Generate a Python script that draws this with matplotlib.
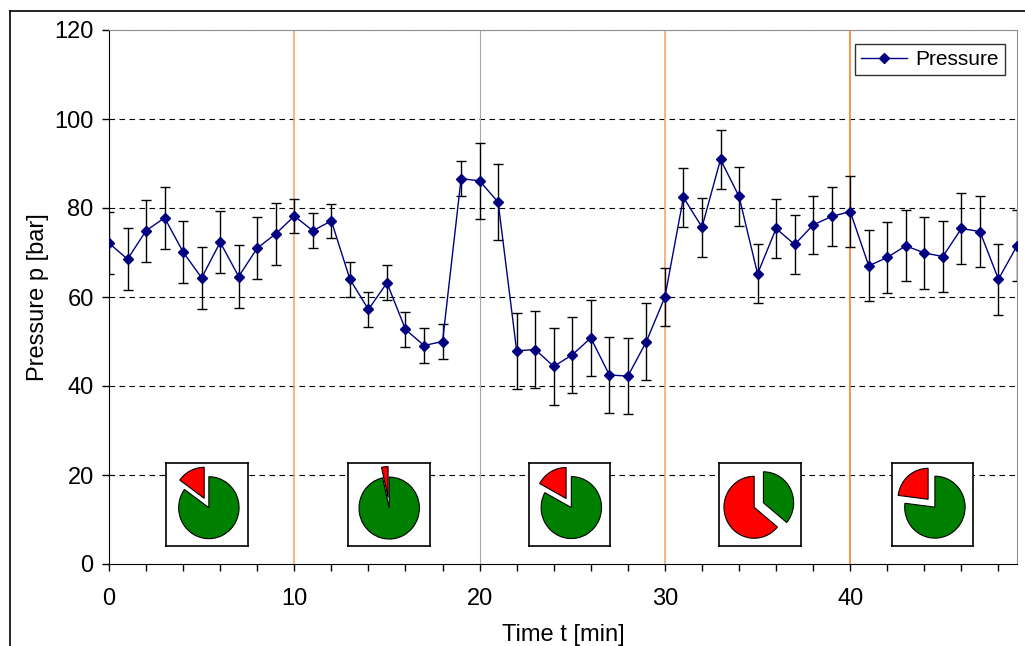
import numpy as np
import matplotlib
matplotlib.use('Agg')
import matplotlib.pyplot as plt
from matplotlib.lines import Line2D

plt.rcParams['font.family'] = ['Liberation Sans', 'DejaVu Sans']

# --- Data ---
time_min = list(range(50))
pressure = [72.1, 68.5, 74.9, 77.8, 70.1, 64.3, 72.3, 64.6, 71.0, 74.2,
            78.2, 74.9, 77.1, 64.0, 57.2, 63.2, 52.7, 49.1, 50.0, 86.6,
            86.1, 81.3, 47.9, 48.2, 44.4, 47.0, 50.8, 42.5, 42.2, 50.0,
            60.0, 82.4, 75.7, 90.9, 82.6, 65.2, 75.4, 71.8, 76.2, 78.1,
            79.2, 67.0, 68.9, 71.5, 69.9, 69.1, 75.4, 74.7, 64.0, 71.5]
pressure_err = [7.0] * 10 + [3.9] * 10 + [8.6] * 10 + [6.6] * 10 + [8.0] * 10

# phase boundaries (vertical lines)
phase_lines = [10, 20, 30, 40]
phase_colors = ['#F8A46C', '#A8A8A8', '#F8A46C', '#FF7F2A']

# pie shares per phase: [green, red]
pie_green = [85, 96.5, 83, 36, 77]
pie_red = [15, 3.5, 17, 64, 23]
pie_box_left = [3.1, 12.9, 22.65, 32.94, 42.24]

# --- Plot ---
fig = plt.figure(figsize=(10.25, 6.46), dpi=100)
ax = fig.add_axes([109 / 1025, 1 - 564 / 646, 908 / 1025, 534 / 646])

for y in [20, 40, 60, 80, 100]:
    ax.axhline(y, color='black', lw=0.8, dashes=(5, 4), zorder=1)
ax.axhline(120, color='#909090', lw=0.8, dashes=(5, 4), zorder=1)

for xv, c in zip(phase_lines, phase_colors):
    ax.axvline(xv, color=c, lw=1.2 if c != '#A8A8A8' else 0.8, zorder=1)

ax.errorbar(time_min, pressure, yerr=pressure_err, fmt='none', ecolor='black',
            elinewidth=1.0, capsize=3.6, capthick=1.0, zorder=2)
ax.plot(time_min, pressure, color='#000080', lw=1.0, marker='D', markersize=5,
        label='Pressure', zorder=3)

ax.set_xlim(0, 49)
ax.set_ylim(0, 120)
ax.set_xticks(np.arange(0, 50, 2), minor=True)
ax.set_xticks([0, 10, 20, 30, 40])
ax.set_yticks([0, 20, 40, 60, 80, 100, 120])
ax.tick_params(axis='both', which='both', direction='out', length=5, width=1,
               labelsize=17)
ax.tick_params(axis='x', which='both', pad=12)
ax.tick_params(axis='y', pad=6)
ax.spines['top'].set_color('#909090')
ax.spines['right'].set_color('#909090')

ax.set_xlabel('Time t [min]', fontsize=17, labelpad=10)
ax.set_ylabel('Pressure p [bar]', fontsize=17, labelpad=4)

leg = ax.legend(loc='upper right', bbox_to_anchor=(0.9868, 0.9738), fontsize=15,
                frameon=True, fancybox=False, edgecolor='black', handlelength=2.2,
                borderpad=0.3, handletextpad=0.4, borderaxespad=0)
leg.get_frame().set_linewidth(1.0)

# pie insets
for left, g, r in zip(pie_box_left, pie_green, pie_red):
    pax = ax.inset_axes([left, 4.0, 4.4, 18.8], transform=ax.transData)
    pax.pie([g, r], colors=['#008000', '#FF0000'], startangle=90, counterclock=False,
            explode=[0.12, 0.22], wedgeprops=dict(edgecolor='black', linewidth=0.8),
            frame=True)
    pax.set_aspect('auto')
    pax.set_xlim(-1.35, 1.35)
    pax.set_ylim(-1.35, 1.35)
    pax.set_xticks([])
    pax.set_yticks([])
    pax.set_facecolor('white')
    for s in pax.spines.values():
        s.set_visible(True)
        s.set_linewidth(1.2)
        s.set_color('black')
    pax.set_zorder(4)

# outer frame of the chart area
fig.add_artist(Line2D([10 / 1025, 10 / 1025], [0, 1 - 11 / 646], color='black',
                      lw=1.2, transform=fig.transFigure))
fig.add_artist(Line2D([10 / 1025, 1], [1 - 11 / 646, 1 - 11 / 646], color='black',
                      lw=1.2, transform=fig.transFigure))

fig.savefig('out.png', dpi=100)
